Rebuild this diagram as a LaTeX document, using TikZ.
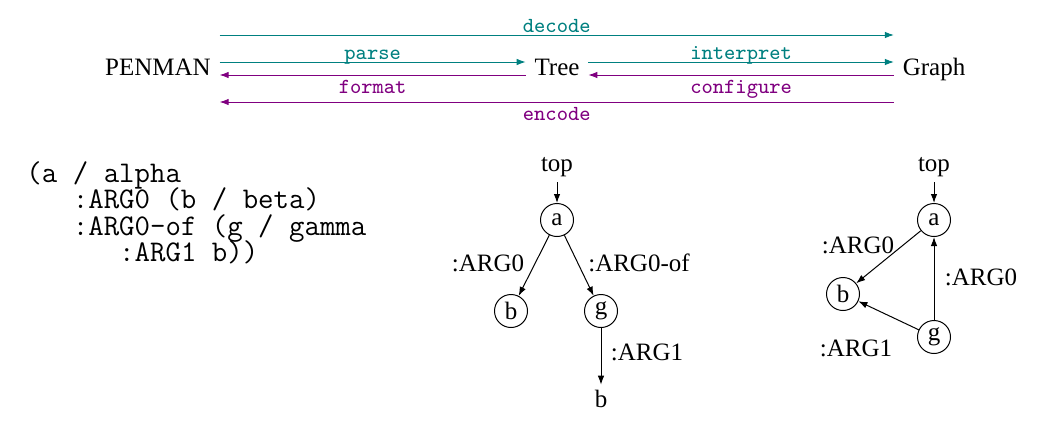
\documentclass[tikz,border=0pt]{standalone}
\usepackage{fontspec}
\setmainfont{Liberation Serif}
\usetikzlibrary{arrows.meta,positioning}

\definecolor{dec}{RGB}{0,128,128}
\definecolor{enc}{RGB}{128,0,128}
\newcommand\codefont{\ttfamily\fontsize{12}{10.6}\selectfont\lineskiplimit=-10pt\relax}

\tikzset{
  stage/.style={text height=6.8pt,text depth=2.2pt},
  op/.style={font=\ttfamily\fontsize{8.6}{10}\selectfont,inner sep=0.4pt,
             text height=4.8pt,text depth=1.2pt},
  fwd/.style={draw=dec,-{Latex[length=3.6pt,width=2.6pt]}},
  bwd/.style={draw=enc,-{Latex[length=3.6pt,width=2.6pt]}},
  var/.style={circle,draw,minimum size=13.2pt,inner sep=0pt},
  word/.style={inner sep=2pt},
  role/.style={inner sep=0pt},
  edge/.style={-{Latex[length=3.6pt,width=2.6pt]}},
}

\begin{document}
\begin{tikzpicture}[x=0.4pt,y=-0.4pt]
\useasboundingbox (0,0) rectangle (1058,427);
\def\up{2.9pt}    % parse / interpret
\def\dn{-2.3pt}   % format / configure
\def\far{13.7pt}  % decode
\def\back{-13.1pt} % encode

% the three stages
\node[stage,anchor=base] (penman) at (158,75) {PENMAN};
\node[stage,anchor=base] (tree)   at (557,75) {Tree};
\node[stage,anchor=base] (graph)  at (934,75) {Graph};

\draw[fwd] ([yshift=\far]penman.east) -- ([yshift=\far]graph.west)
  node[op,midway,above=-0.6pt,text=dec] {decode};
\draw[fwd] ([yshift=\up]penman.east) -- ([yshift=\up]tree.west)
  node[op,midway,above=-0.6pt,text=dec] {parse};
\draw[fwd] ([yshift=\up]tree.east) -- ([yshift=\up]graph.west)
  node[op,midway,above=-0.6pt,text=dec] {interpret};
\draw[bwd] ([yshift=\dn]tree.west) -- ([yshift=\dn]penman.east)
  node[op,midway,below=2pt,text=enc] {format};
\draw[bwd] ([yshift=\dn]graph.west) -- ([yshift=\dn]tree.east)
  node[op,midway,below=2pt,text=enc] {configure};
\draw[bwd] ([yshift=\back]graph.west) -- ([yshift=\back]penman.east)
  node[op,midway,below=2pt,text=enc] {encode};

% PENMAN string
\node[anchor=north west,align=left,inner sep=0pt,font=\codefont]
      (code) at (26,161)
  {(a / alpha\\
   \phantom{xxx}:ARG0 (b / beta)\\
   \phantom{xxx}:ARG0-of (g / gamma\\
   \phantom{xxxxxx}:ARG1 b))};

% tree
\node[word] (ttop) at (557,167) {top};
\node[var]  (ta)   at (557,220) {a};
\node[var]  (tb)   at (511,311) {b};
\node[var]  (tg)   at (601,311) {g};
\node[word] (tb2)  at (601,399) {b};
\draw[edge] (ttop) -- (ta);
\draw[edge] (ta) -- (tb);
\draw[edge] (ta) -- (tg);
\draw[edge] (tg) -- (tb2);
\node[role] (targ0)   at (488,263) {:ARG0};
\node[role] (targ0of) at (639,263) {:ARG0-of};
\node[role] (targ1)   at (647,352) {:ARG1};

% graph
\node[word] (gtop) at (934,167) {top};
\node[var]  (ga)   at (934,220) {a};
\node[var]  (gb)   at (843,294) {b};
\node[var]  (gg)   at (934,337) {g};
\draw[edge] (gtop) -- (ga);
\draw[edge] (ga) -- (gb);
\draw[edge] (gg) -- (gb);
\draw[edge] (gg) -- (ga);
\node[role] (garg0a) at (858,245) {:ARG0};
\node[role] (garg0b) at (981,277) {:ARG0};
\node[role] (garg1)  at (856,348) {:ARG1};
\end{tikzpicture}
\end{document}
